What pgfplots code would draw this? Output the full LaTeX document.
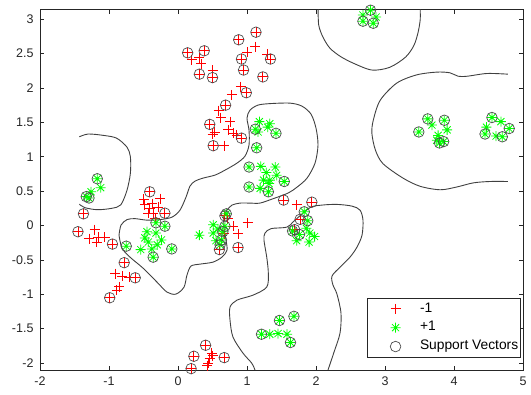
\documentclass[border=0pt]{standalone}
\usepackage{fontspec}
\setmainfont{Liberation Sans}
\usepackage{pgfplots}
\pgfplotsset{compat=1.18}
\definecolor{axc}{rgb}{0.15,0.15,0.15}
\definecolor{mgreen}{rgb}{0,1,0}
\pgfdeclareplotmark{mstar}{%
 \pgfpathmoveto{\pgfqpoint{-\pgfplotmarksize}{0pt}}\pgfpathlineto{\pgfqpoint{\pgfplotmarksize}{0pt}}%
 \pgfpathmoveto{\pgfqpoint{0pt}{-\pgfplotmarksize}}\pgfpathlineto{\pgfqpoint{0pt}{\pgfplotmarksize}}%
 \pgfpathmoveto{\pgfqpoint{-.707\pgfplotmarksize}{-.707\pgfplotmarksize}}\pgfpathlineto{\pgfqpoint{.707\pgfplotmarksize}{.707\pgfplotmarksize}}%
 \pgfpathmoveto{\pgfqpoint{-.707\pgfplotmarksize}{.707\pgfplotmarksize}}\pgfpathlineto{\pgfqpoint{.707\pgfplotmarksize}{-.707\pgfplotmarksize}}%
 \pgfusepathqstroke}
\begin{document}
\begin{tikzpicture}
\begin{axis}[
 width=483pt, height=360.5pt, scale only axis,
 xmin=-2, xmax=5, ymin=-2.1, ymax=3.14,
 xtick={-2,-1,0,1,2,3,4,5},
 ytick={-2,-1.5,-1,-0.5,0,0.5,1,1.5,2,2.5,3},
 tick align=inside, xtick pos=both, ytick pos=both,
 major tick length=4.5pt,
 axis line style={draw=axc, line width=0.6pt},
 every tick/.style={draw=axc, line width=0.6pt},
 /pgf/number format/assume math mode=true,
 tick label style={font=\fontsize{12.5}{14}\selectfont, text=axc},
 xticklabel style={yshift=-3pt},
 yticklabel style={xshift=-3pt},
 legend style={at={(1,0)}, anchor=south east, xshift=-2.5pt, yshift=12.7pt,
   draw=axc, line width=0.6pt, font=\fontsize{13.8}{15}\selectfont,
   inner xsep=0pt, inner ysep=1pt,
   nodes={text height=9.5pt, text depth=3pt, inner ysep=3.2pt},
   cells={anchor=west}},
 legend image code/.code={\path (0pt,0pt) (50pt,0pt); \draw[#1] plot coordinates {(28pt,0pt)};},
]
% decision boundary contours
\addplot[black!75, line width=0.9pt, smooth, forget plot] coordinates {
(2.03,3.14) (2.04,2.91) (2.10,2.74) (2.20,2.58) (2.35,2.46) (2.54,2.36) (2.81,2.26)
(3.07,2.30) (3.30,2.45) (3.42,2.62) (3.48,2.81) (3.51,2.99) (3.51,3.14)};
\addplot[black!75, line width=0.9pt, smooth, forget plot] coordinates {
(4.78,2.20) (4.48,2.21) (4.19,2.17) (4.06,2.17) (3.94,2.22) (3.75,2.23) (3.46,2.19)
(3.17,2.07) (2.93,1.82) (2.83,1.53) (2.81,1.34) (2.86,1.10) (2.97,0.90) (3.26,0.69)
(3.51,0.57) (3.80,0.52) (4.04,0.56) (4.28,0.62) (4.52,0.64) (4.78,0.64)};
\addplot[black!75, line width=0.9pt, smooth, forget plot] coordinates {
(-1.43,1.29) (-1.30,1.33) (-1.08,1.31) (-0.89,1.27) (-0.74,1.14) (-0.69,1.00)
(-0.69,0.76) (-0.74,0.51) (-0.83,0.30) (-0.96,0.25) (-1.17,0.23) (-1.35,0.26) (-1.43,0.31)};
\addplot[black!75, line width=0.9pt, smooth, forget plot] coordinates {
(-0.855,-0.14) (-0.826,0.006) (-0.739,0.086) (-0.623,0.10) (-0.449,0.078) (-0.261,0.086)
(-0.087,0.122) (0.029,0.224) (0.116,0.413) (0.174,0.573) (0.246,0.645) (0.362,0.689)
(0.536,0.733) (0.681,0.805) (0.855,0.907) (0.971,1.009) (1.029,1.169) (1.029,1.387)
(1.0,1.561) (1.043,1.677) (1.159,1.750) (1.333,1.772) (1.623,1.779) (1.797,1.735)
(1.928,1.619) (2.0,1.416) (2.029,1.169) (1.986,0.907) (1.870,0.689) (1.725,0.558)
(1.594,0.471) (1.362,0.384) (1.188,0.326) (1.043,0.326) (0.899,0.326) (0.783,0.297)
(0.710,0.224) (0.667,0.137) (0.667,-0.038) (0.696,-0.212) (0.710,-0.358) (0.638,-0.459)
(0.507,-0.532) (0.319,-0.561) (0.188,-0.590) (0.130,-0.721) (0.087,-0.895) (-0.029,-0.997)
(-0.159,-0.968) (-0.304,-0.823) (-0.507,-0.619) (-0.696,-0.459) (-0.812,-0.328) (-0.855,-0.14)};
\addplot[black!75, line width=0.9pt, smooth, forget plot] coordinates {
(1.116,-2.10) (1.068,-2.0) (0.942,-1.855) (0.797,-1.622) (0.754,-1.375) (0.754,-1.186)
(0.855,-1.084) (1.087,-1.012) (1.286,-0.895) (1.309,-0.692) (1.286,-0.459) (1.246,-0.212)
(1.261,-0.110) (1.348,-0.045) (1.580,-0.023) (1.681,0.064) (1.913,0.260) (2.087,0.297)
(2.304,0.307) (2.522,0.282) (2.638,0.224) (2.681,0.078) (2.667,-0.140) (2.594,-0.314)
(2.493,-0.459) (2.348,-0.605) (2.232,-0.735) (2.246,-0.866) (2.304,-0.997) (2.362,-1.273)
(2.348,-1.564) (2.261,-1.840) (2.174,-2.10)};
% class -1
\addplot[only marks, mark=+, mark size=5pt, red, line width=0.9pt] coordinates {
(0.14,2.51) (0.38,2.54) (0.20,2.41) (0.31,2.44) (0.34,2.35) (0.31,2.20) (0.50,2.15) (0.50,2.26)
(0.88,2.70) (1.13,2.81) (1.12,2.60) (1.00,2.52) (0.92,2.42) (0.95,2.26) (1.29,2.49) (1.34,2.42)
(1.23,2.16) (0.91,2.02) (0.99,1.93) (0.78,1.90) (0.69,1.75) (0.59,1.67) (0.62,1.57) (0.46,1.47)
(0.76,1.51) (0.53,1.36) (0.73,1.39) (0.80,1.34) (0.85,1.31) (0.92,1.27) (0.51,1.16) (0.67,1.16)
(0.50,1.33)
(1.53,0.37) (1.72,0.30) (1.94,0.34) (1.77,0.09) (1.69,-0.06)
(0.68,0.14) (0.72,0.10) (0.80,-0.01) (1.01,0.04) (0.87,-0.12) (0.87,-0.32) (0.67,-0.12) (0.60,-0.35)
(-0.41,0.49) (-0.50,0.38) (-0.26,0.39) (-0.48,0.30) (-0.37,0.32) (-0.41,0.25) (-0.36,0.18)
(-0.29,0.27) (-0.19,0.18) (-0.43,0.18) (-0.33,0.10) (-0.78,-0.54)
(-1.37,0.17) (-1.45,-0.09) (-1.21,-0.06) (-1.29,-0.19) (-1.16,-0.17) (-1.18,-0.24) (-1.06,-0.17)
(-0.95,-0.27) (-0.91,-0.70) (-0.81,-0.74) (-0.71,-0.75) (-0.62,-0.76) (-0.85,-0.89) (-0.89,-0.94)
(-0.99,-1.05)
(0.40,-1.74) (0.23,-1.90) (0.67,-1.92) (0.49,-1.86) (0.46,-1.93) (0.44,-2.00) (0.42,-2.04)
(0.50,-1.89) (0.19,-2.08)};
\addlegendentry{-1}
% class +1
\addplot[only marks, mark=mstar, mark size=5pt, mgreen, line width=0.8pt] coordinates {
(1.18,1.51) (1.33,1.48) (1.12,1.40) (1.16,1.36) (1.42,1.34) (1.30,1.43) (1.14,1.13) (1.03,0.85)
(1.20,0.86) (1.41,0.85) (1.28,0.77) (1.43,0.73) (1.33,0.66) (1.24,0.66) (1.54,0.64) (1.32,0.61)
(1.03,0.56) (1.19,0.54) (1.31,0.49)
(1.83,0.20) (1.88,0.07) (1.66,-0.08) (1.76,-0.13) (1.91,-0.11) (1.98,-0.16) (1.72,-0.22)
(1.90,-0.24) (1.86,-0.04)
(0.70,0.17) (0.68,-0.01) (0.65,-0.09) (0.63,-0.21) (0.61,-0.28) (0.51,0.01) (0.51,-0.11)
(0.31,-0.14) (0.55,-0.22) (0.58,-0.05)
(-0.32,0.04) (-0.19,-0.01) (-0.45,-0.09) (-0.32,-0.11) (-0.24,-0.21) (-0.43,-0.24) (-0.54,-0.35)
(-0.38,-0.34) (-0.36,-0.46) (-0.09,-0.34) (-0.75,-0.30) (-0.30,-0.28) (-0.48,-0.18)
(-1.17,0.68) (-1.26,0.49) (-1.12,0.55) (-1.33,0.42) (-1.29,0.40)
(1.47,-1.38) (1.68,-1.32) (1.21,-1.58) (1.33,-1.58) (1.45,-1.57) (1.58,-1.58) (1.63,-1.70)
(2.79,3.13) (2.68,2.97) (2.83,2.94) (2.68,3.06) (2.87,3.03)
(3.49,1.36) (3.62,1.55) (3.68,1.46) (3.86,1.53) (3.90,1.39) (3.77,1.31) (3.79,1.20) (3.85,1.22)
(3.75,1.24) (4.55,1.57) (4.68,1.51) (4.47,1.43) (4.45,1.33) (4.80,1.41) (4.61,1.30) (4.70,1.29)};
\addlegendentry{+1}
% support vectors
\addplot[only marks, mark=o, mark size=5.3pt, draw=black!70, line width=0.7pt] coordinates {
(0.14,2.51) (0.38,2.54) (0.31,2.20) (0.50,2.15) (0.88,2.70) (1.13,2.81) (0.92,2.42) (0.95,2.26)
(1.34,2.42) (1.23,2.16) (0.99,1.93) (0.69,1.75) (0.46,1.47) (0.92,1.27) (0.51,1.16)
(1.53,0.37) (1.94,0.34) (1.77,0.09) (1.69,-0.06) (0.68,0.14) (0.87,-0.32) (0.60,-0.35)
(-0.41,0.49) (-0.19,0.18) (-0.78,-0.54) (-1.37,0.17) (-1.45,-0.09) (-0.95,-0.27) (-0.62,-0.76)
(-0.99,-1.05) (0.40,-1.74) (0.23,-1.90) (0.67,-1.92) (0.19,-2.08)
(1.12,1.40) (1.42,1.34) (1.14,1.13) (1.03,0.85) (1.54,0.64) (1.03,0.56) (1.31,0.49)
(1.83,0.20) (1.88,0.07) (1.66,-0.08) (1.76,-0.13)
(0.70,0.17) (0.68,-0.01) (0.65,-0.09) (0.63,-0.21) (0.61,-0.28)
(-0.32,0.04) (-0.19,-0.01) (-0.36,-0.46) (-0.09,-0.34) (-0.75,-0.30)
(-1.17,0.68) (-1.33,0.42) (-1.29,0.40)
(1.47,-1.38) (1.68,-1.32) (1.21,-1.58) (1.63,-1.70)
(2.79,3.13) (2.68,2.97) (2.83,2.94)
(3.49,1.36) (3.62,1.55) (3.86,1.53) (3.79,1.20) (3.85,1.22)
(4.55,1.57) (4.45,1.33) (4.80,1.41) (4.70,1.29)};
\addlegendentry{Support Vectors}
\end{axis}
\path ([shift={(-40pt,-24pt)}]current axis.south west) rectangle ([shift={(8pt,9.5pt)}]current axis.north east);
\end{tikzpicture}
\end{document}
